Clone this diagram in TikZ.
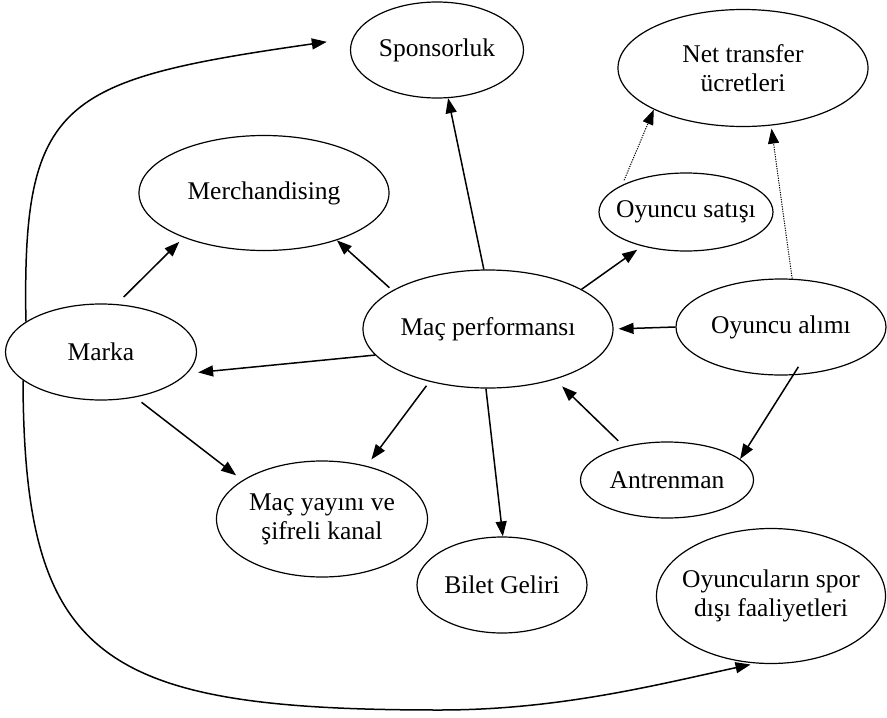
\documentclass[tikz,border=0pt]{standalone}
\usepackage{fontspec}
\setmainfont{Liberation Serif}
\usetikzlibrary{arrows.meta,shapes.geometric}
\begin{document}
\begin{tikzpicture}[x=1pt,y=-1pt,
  el/.style={draw, ellipse, line width=1.2pt, inner sep=-40pt, align=center,
             font=\fontsize{25.5}{29}\selectfont},
  arr/.style={line width=1.5pt, -{Triangle[length=15pt,width=11pt]}},
  dotarr/.style={line width=1pt, dash pattern=on 1.2pt off 1.2pt, -{Triangle[length=15pt,width=11pt]}}]
\useasboundingbox (0,0) rectangle (887,718);
\node[el, minimum width=173pt, minimum height=96pt]  (spon)  at (437,50)  {Sponsorluk};
\node[el, minimum width=250pt, minimum height=117pt] (net)   at (743,68)  {Net transfer\\ücretleri};
\node[el, minimum width=250pt, minimum height=115pt] (merch) at (264,193) {Merchandising};
\node[el, minimum width=174pt, minimum height=78pt]  (satis) at (686,212) {Oyuncu satışı};
\node[el, minimum width=191pt, minimum height=96pt]  (marka) at (101,352) {Marka};
\node[el, minimum width=250pt, minimum height=118pt] (perf)  at (488,329) {Maç performansı};
\node[el, minimum width=210pt, minimum height=96pt]  (alim)  at (781,327) {Oyuncu alımı};
\node[el, minimum width=173pt, minimum height=76pt]  (antr)  at (667,480) {Antrenman};
\node[el, minimum width=211pt, minimum height=116pt] (yayin) at (322,519) {Maç yayını ve\\şifreli kanal};
\node[el, minimum width=170pt, minimum height=96pt]  (bilet) at (502,585) {Bilet Geliri};
\node[el, minimum width=229pt, minimum height=135pt] (spor)  at (771,596) {Oyuncuların spor\\dışı faaliyetleri};

\draw[arr, shorten <=10pt, shorten >=6pt] (marka.72) -- (merch.209);
\draw[arr, shorten <=4pt] (perf.158) -- (merch.327.5);
\draw[arr] (perf.94) -- (spon.283);
\draw[arr, shorten >=6pt] (perf.23.5) -- (satis.218.5);
\draw[dotarr, shorten <=5pt] (satis.157) -- (net.205);
\draw[dotarr, shorten >=3pt] (alim.77) -- (net.296.6);
\draw[arr, shorten >=5pt] (alim.180) -- (perf.0);
\draw[arr, shorten >=11pt] (perf.193) -- (marka.346.7);
\draw[arr, shorten <=8pt, shorten >=8pt] (marka.307.4) -- (yayin.154.8);
\draw[arr, shorten <=5pt, shorten >=8pt] (perf.222.6) -- (yayin.50.3);
\draw[arr] (perf.268) -- (bilet.89);
\draw[arr, shorten <=8pt, shorten >=10pt] (antr.142) -- (perf.323);
\draw[arr, shorten <=-10pt] (alim.284.7) -- (antr.16.9);
\draw[arr, shorten >=26pt] (marka.158) .. controls (22,100) and (60,80) .. (spon.172);
\draw[arr, shorten >=5pt] (marka.200) .. controls (24,660) and (100,710) .. (440,710)
   .. controls (560,710) and (660,684) .. (spor.257);
\end{tikzpicture}
\end{document}
